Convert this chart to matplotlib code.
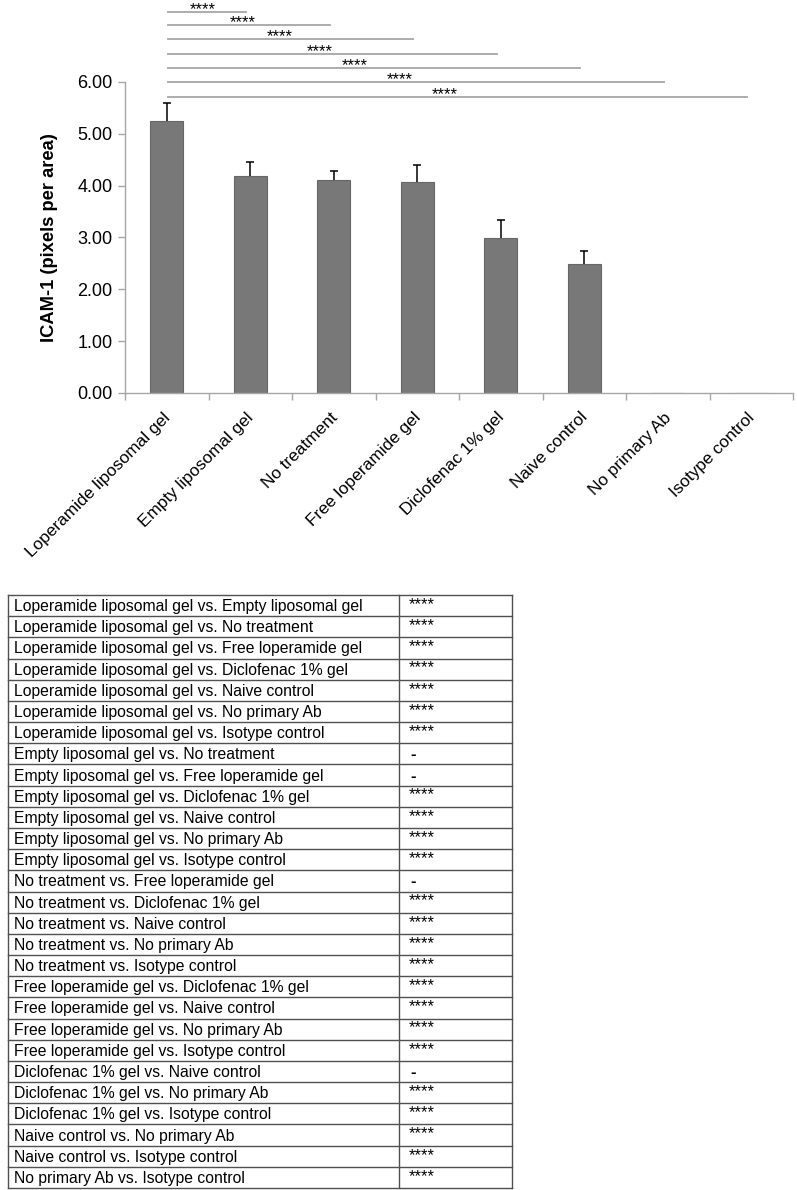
import matplotlib
matplotlib.use("Agg")
import matplotlib.pyplot as plt
import numpy as np

plt.rcParams['font.family'] = ['Liberation Sans', 'DejaVu Sans']

categories = ["Loperamide liposomal gel", "Empty liposomal gel", "No treatment",
              "Free loperamide gel", "Diclofenac 1% gel", "Naive control",
              "No primary Ab", "Isotype control"]
means = [5.25, 4.18, 4.11, 4.08, 2.99, 2.49, 0.0, 0.0]
errors = [0.35, 0.27, 0.18, 0.32, 0.34, 0.25, 0.0, 0.0]

# significance brackets: from group 0 to group j
bracket_targets = [1, 2, 3, 4, 5, 6, 7]
bracket_heights = [7.35, 7.10, 6.83, 6.54, 6.27, 6.00, 5.71]
bracket_labels = ["****"] * 7

comparisons = [
    "Loperamide liposomal gel vs. Empty liposomal gel",
    "Loperamide liposomal gel vs. No treatment",
    "Loperamide liposomal gel vs. Free loperamide gel",
    "Loperamide liposomal gel vs. Diclofenac 1% gel",
    "Loperamide liposomal gel vs. Naive control",
    "Loperamide liposomal gel vs. No primary Ab",
    "Loperamide liposomal gel vs. Isotype control",
    "Empty liposomal gel vs. No treatment",
    "Empty liposomal gel vs. Free loperamide gel",
    "Empty liposomal gel vs. Diclofenac 1% gel",
    "Empty liposomal gel vs. Naive control",
    "Empty liposomal gel vs. No primary Ab",
    "Empty liposomal gel vs. Isotype control",
    "No treatment vs. Free loperamide gel",
    "No treatment vs. Diclofenac 1% gel",
    "No treatment vs. Naive control",
    "No treatment vs. No primary Ab",
    "No treatment vs. Isotype control",
    "Free loperamide gel vs. Diclofenac 1% gel",
    "Free loperamide gel vs. Naive control",
    "Free loperamide gel vs. No primary Ab",
    "Free loperamide gel vs. Isotype control",
    "Diclofenac 1% gel vs. Naive control",
    "Diclofenac 1% gel vs. No primary Ab",
    "Diclofenac 1% gel vs. Isotype control",
    "Naive control vs. No primary Ab",
    "Naive control vs. Isotype control",
    "No primary Ab vs. Isotype control",
]
significance = ["****"] * 7 + ["-", "-"] + ["****"] * 4 + ["-"] + ["****"] * 4 + \
               ["****"] * 4 + ["-"] + ["****"] * 5 + ["-"]

W, H = 797, 1190
fig = plt.figure(figsize=(W / 100, H / 100), dpi=100)

# ---- bar chart ----
x0, x1 = 125, 793
y0, y6 = 393, 82
ax = fig.add_axes([x0 / W, 1 - y0 / H, (x1 - x0) / W, (y0 - y6) / H])
x = np.arange(len(categories))
ax.bar(x, means, width=0.4, color="#787878", edgecolor="#666666", linewidth=0.8, zorder=2)
for xi, m, e in zip(x, means, errors):
    if e > 0:
        _, caps, _ = ax.errorbar(xi, m, yerr=[[0], [e]], fmt="none", ecolor="black",
                                 elinewidth=1.1, capsize=3, capthick=1.1, zorder=3)
        caps[0].set_visible(False)
ax.set_xlim(-0.5, len(categories) - 0.5)
ax.set_ylim(0, 6)
ax.set_yticks(np.arange(0, 6.01, 1))
ax.set_yticklabels([f"{v:.2f}" for v in np.arange(0, 6.01, 1)], fontsize=13)
ax.set_xticks(np.arange(-0.5, len(categories), 1), minor=False)
ax.set_xticklabels([])
for sp in ["top", "right"]:
    ax.spines[sp].set_visible(False)
for sp in ["left", "bottom"]:
    ax.spines[sp].set_color("#a6a6a6")
    ax.spines[sp].set_linewidth(1.0)
ax.tick_params(axis="both", color="#a6a6a6", length=5, width=1.0, direction="out", pad=4)
ax.set_ylabel("ICAM-1 (pixels per area)", fontsize=13.2, fontweight="bold", labelpad=14)
for xi, lab in zip(x, categories):
    ax.annotate(lab, xy=(xi, 0), xycoords="data", xytext=(-3, -12), textcoords="offset points",
                rotation=45, ha="right", va="top", rotation_mode="anchor", fontsize=12.4)

# star label positions (pixel x in the reference layout, converted to data units)
star_px = [203, 243, 280, 320, 355, 400, 445]
for j, h, lab, spx in zip(bracket_targets, bracket_heights, bracket_labels, star_px):
    ax.plot([0.02, j - 0.05], [h, h], color="#a6a6a6", lw=1.3, clip_on=False)
    xs = (spx - x0) / ((x1 - x0) / len(categories)) - 0.5
    ax.text(xs, h - 0.05, lab, ha="center", va="baseline", fontsize=12, clip_on=False)

# ---- table ----
tax = fig.add_axes([0, 0, 1, 1])
tax.set_xlim(0, W)
tax.set_ylim(H, 0)
tax.axis("off")
tl, tm, tr = 8, 399, 512
ttop, tbot = 595, 1188
n = len(comparisons)
rh = (tbot - ttop) / n
lc = "#505050"
for i in range(n + 1):
    yy = ttop + i * rh
    tax.plot([tl, tr], [yy, yy], color=lc, lw=1.0)
for xx in (tl, tm, tr):
    tax.plot([xx, xx], [ttop, tbot], color=lc, lw=1.0)
for i, (c, s) in enumerate(zip(comparisons, significance)):
    ytop = ttop + i * rh
    tax.text(tl + 6, ytop + rh / 2 + 1, c, ha="left", va="center", fontsize=11.3)
    if s == "-":
        tax.text(tm + 11, ytop + rh / 2 + 1, s, ha="left", va="center",
                 fontsize=12, fontweight="bold")
    else:
        tax.text(tm + 10, ytop + 2, s, ha="left", va="top", fontsize=12)

fig.savefig("out.png", dpi=100)
